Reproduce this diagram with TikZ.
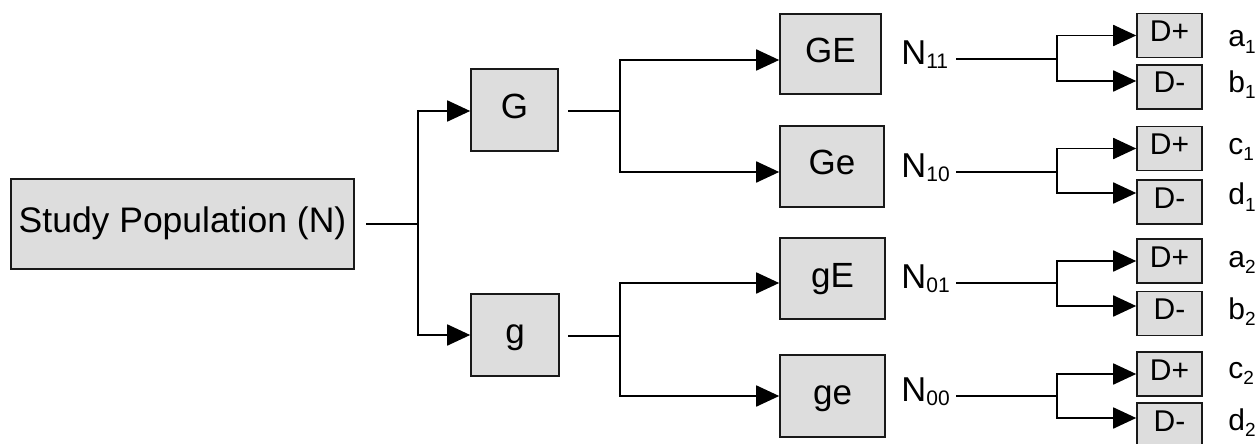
\documentclass[tikz,border=0pt]{standalone}
\usepackage{fontspec}
\setmainfont{Liberation Sans}
\usetikzlibrary{arrows.meta}
\definecolor{boxgray}{RGB}{221,221,221}
\definecolor{edge}{RGB}{25,25,25}
\newcommand\bigsub[1]{\raisebox{-2pt}{\fontsize{10.5pt}{12pt}\selectfont #1}}
\newcommand\smallsub[1]{\raisebox{-3pt}{\fontsize{9.5pt}{10pt}\selectfont #1}}
\begin{document}
\begin{tikzpicture}[x=0.5pt,y=-0.5pt,
  box/.style={draw=edge, line width=0.8pt, fill=boxgray, inner sep=0pt,
    text height=12.5pt, text depth=4pt,
    font=\fontsize{17.5pt}{20pt}\selectfont},
  dbox/.style={draw=edge, line width=0.8pt, fill=boxgray, inner sep=0pt,
    minimum width=32.5pt, minimum height=22pt,
    text height=10pt, text depth=4pt,
    font=\fontsize{15pt}{17pt}\selectfont},
  nlab/.style={inner sep=0pt, anchor=base west, font=\fontsize{17.25pt}{20pt}\selectfont},
  slab/.style={inner sep=0pt, anchor=base west, font=\fontsize{15pt}{17pt}\selectfont},
  conn/.style={line width=0.9pt, draw=black},
  arr/.style={conn, -{Triangle[length=11.5pt,width=10.5pt]}}]
\useasboundingbox (0,0) rectangle (1258,444);

% boxes
\node[box, minimum width=171.5pt, minimum height=45pt,
  font=\fontsize{17.75pt}{20pt}\selectfont] (study) at (182.5,224) {Study Population (N)};
\node[box, minimum width=43.5pt, minimum height=41pt] (G) at (514.5,110) {G};
\node[box, minimum width=44pt, minimum height=41pt] (g) at (515,335) {g};
\node[box, minimum width=50.5pt, minimum height=40pt] (GE) at (830.5,54) {GE};
\node[box, minimum width=52pt, minimum height=40.5pt] (Ge) at (832,166.5) {Ge};
\node[box, minimum width=52.5pt, minimum height=40.5pt] (gE) at (832.5,278.5) {gE};
\node[box, minimum width=52.5pt, minimum height=41pt] (ge) at (832.5,396) {ge};

% D boxes
\node[dbox] (D1p) at (1169.5,35.5) {D+};
\node[dbox] (D1m) at (1169.5,87) {D-};
\node[dbox] (D2p) at (1169.5,148.5) {D+};
\node[dbox] (D2m) at (1169.5,202) {D-};
\node[dbox] (D3p) at (1169.5,261) {D+};
\node[dbox] (D3m) at (1169.5,313.5) {D-};
\node[dbox] (D4p) at (1169.5,374) {D+};
\node[dbox] (D4m) at (1169.5,425) {D-};

% N labels
\node[nlab] (N11) at (901,64.5) {N\bigsub{11}};
\node[nlab] (N10) at (901,177.5) {N\bigsub{10}};
\node[nlab] (N01) at (901,288.5) {N\bigsub{01}};
\node[nlab] (N00) at (901,401.5) {N\bigsub{00}};

% outcome labels
\node[slab] (la1) at (1228,47) {a\smallsub{1}};
\node[slab] (lb1) at (1228,93) {b\smallsub{1}};
\node[slab] (lc1) at (1228,155) {c\smallsub{1}};
\node[slab] (ld1) at (1228,205) {d\smallsub{1}};
\node[slab] (la2) at (1228,267) {a\smallsub{2}};
\node[slab] (lb2) at (1228,319) {b\smallsub{2}};
\node[slab] (lc2) at (1228,378) {c\smallsub{2}};
\node[slab] (ld2) at (1228,430) {d\smallsub{2}};

% junction coordinates
\coordinate (s0) at (366,224);  \coordinate (j1) at (418,224);
\coordinate (g0) at (568,111);  \coordinate (j2) at (620,111);
\coordinate (h0) at (568,336);  \coordinate (j3) at (620,336);
\coordinate (n1) at (956,59);   \coordinate (k1) at (1057,59);
\coordinate (n2) at (956,172);  \coordinate (k2) at (1057,172);
\coordinate (n3) at (956,283);  \coordinate (k3) at (1057,283);
\coordinate (n4) at (956,396);  \coordinate (k4) at (1057,396);

% connectors
\draw[conn] (s0) -- (j1);
\draw[arr] (j1) |- ([yshift=-0.5pt]G.west);
\draw[arr] (j1) |- (g.west);

\draw[conn] (g0) -- (j2);
\draw[arr] (j2) |- ([yshift=-3pt]GE.west);
\draw[arr] (j2) |- ([yshift=-2.75pt]Ge.west);

\draw[conn] (h0) -- (j3);
\draw[arr] (j3) |- ([yshift=-2.25pt]gE.west);
\draw[arr] (j3) |- (ge.west);

\draw[conn] (n1) -- (k1);
\draw[arr] (k1) |- (D1p.west);
\draw[arr] (k1) |- ([yshift=3pt]D1m.west);

\draw[conn] (n2) -- (k2);
\draw[arr] (k2) |- (D2p.west);
\draw[arr] (k2) |- ([yshift=4.5pt]D2m.west);

\draw[conn] (n3) -- (k3);
\draw[arr] (k3) |- (D3p.west);
\draw[arr] (k3) |- ([yshift=3.75pt]D3m.west);

\draw[conn] (n4) -- (k4);
\draw[arr] (k4) |- (D4p.west);
\draw[arr] (k4) |- ([yshift=3.5pt]D4m.west);
\end{tikzpicture}
\end{document}
